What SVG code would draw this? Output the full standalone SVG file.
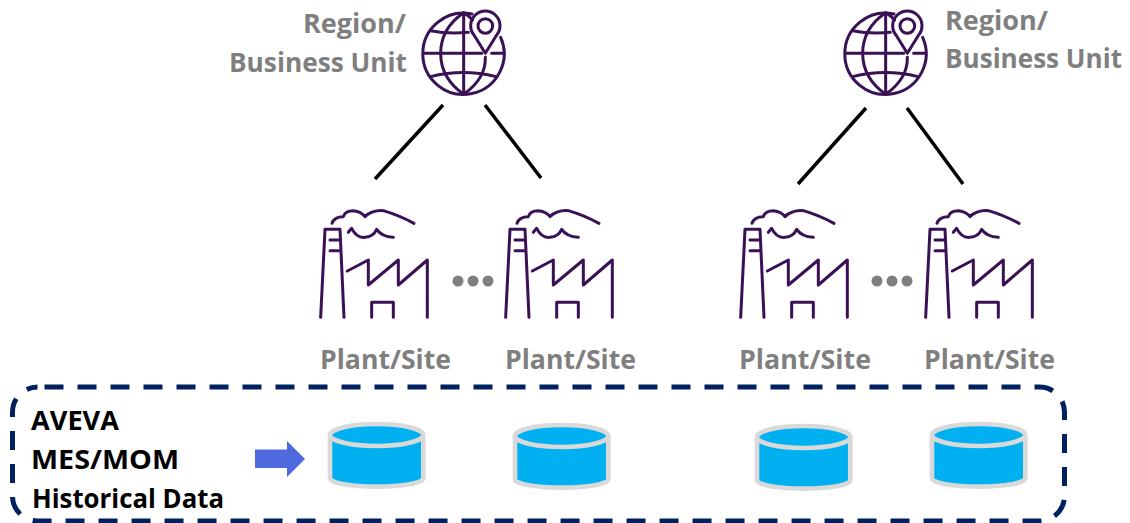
<svg xmlns="http://www.w3.org/2000/svg" width="1130" height="523" viewBox="0 0 1130 523">
<style>
.ico{fill:none;stroke:#3b1155;stroke-width:9;stroke-linecap:round;stroke-linejoin:round}
.conn{stroke:#000;stroke-width:3.500;fill:none}
.lbl{font-family:"Open Sans","Liberation Sans",sans-serif;font-weight:700;font-size:26px;fill:#7f7f7f}
.dark{font-family:"Open Sans","Liberation Sans",sans-serif;font-weight:700;font-size:27px;fill:#000}
.dot{fill:#7f7f7f}
.cyl{fill:#00b0f0;stroke:#d9d9d9;stroke-width:14;stroke-linejoin:round}
</style>
<defs>
<g id="globe" class="ico">
<path d="M186 42A122 122 0 1 0 272 112"/>
<path d="M161 38V283M161 38Q92 85 92 160Q92 235 161 283M161 283Q228 235 226 172M161 38Q178 48 188 60"/>
<path d="M40 160H215M245 160H278M62 92Q110 102 175 97M62 230Q160 205 258 230"/>
<path d="M226 160L192 105A44 44 0 1 1 260 105Z"/>
<circle cx="226" cy="78" r="22"/>
</g>
<g id="factory" class="ico">
<path d="M32 352L45 88H90L102 352M60 120H90M60 152H92"/>
<path d="M112 213L175 180V255L265 180V255L352 180V352M185 352V307H250V352"/>
<path d="M66 70Q72 50 100 50Q105 32 130 32Q155 35 165 50Q185 30 220 32Q265 45 312 70"/>
<path d="M115 97L125 85Q140 115 165 112Q190 110 200 88Q215 110 250 112"/>
</g>
<g id="cylinder" class="cyl">
<path d="M270 75V205A140 25 0 0 0 550 205V75"/>
<ellipse cx="410" cy="75" rx="140" ry="33"/>
</g>
</defs>
<g id="connectors" class="conn">
<path d="M443 105L375 179"/>
<path d="M485 105L541 178"/>
<path d="M866 108L798 184"/>
<path d="M907 108L963 184"/>
</g>
<g id="region-1">
<use href="#globe" transform="translate(410 0) scale(.3333)"/>
<text class="lbl" x="303" y="33" textLength="103" lengthAdjust="spacingAndGlyphs">Region/</text>
<text class="lbl" x="229" y="72" textLength="178" lengthAdjust="spacingAndGlyphs">Business Unit</text>
</g>
<g id="region-2">
<use href="#globe" transform="translate(832 0) scale(.3333)"/>
<text class="lbl" x="945" y="30" textLength="103" lengthAdjust="spacingAndGlyphs">Region/</text>
<text class="lbl" x="945" y="68" textLength="177" lengthAdjust="spacingAndGlyphs">Business Unit</text>
</g>
<g id="plant-1">
<use href="#factory" transform="translate(310 200) scale(.3333)"/>
<text class="lbl" x="320" y="369" textLength="131" lengthAdjust="spacingAndGlyphs">Plant/Site</text>
</g>
<g id="plant-2">
<use href="#factory" transform="translate(495 200) scale(.3333)"/>
<text class="lbl" x="505" y="369" textLength="131" lengthAdjust="spacingAndGlyphs">Plant/Site</text>
</g>
<g id="plant-3">
<use href="#factory" transform="translate(730 200) scale(.3333)"/>
<text class="lbl" x="739" y="369" textLength="132" lengthAdjust="spacingAndGlyphs">Plant/Site</text>
</g>
<g id="plant-4">
<use href="#factory" transform="translate(915 200) scale(.3333)"/>
<text class="lbl" x="924" y="369" textLength="131" lengthAdjust="spacingAndGlyphs">Plant/Site</text>
</g>
<g id="dots-1"><circle class="dot" cx="458" cy="281" r="5.500"/><circle class="dot" cx="473" cy="281" r="5.500"/><circle class="dot" cx="488" cy="281" r="5.500"/></g>
<g id="dots-2"><circle class="dot" cx="877" cy="281" r="5.500"/><circle class="dot" cx="892" cy="281" r="5.500"/><circle class="dot" cx="907" cy="281" r="5.500"/></g>
<g id="historical-data">
<rect x="12.500" y="387" width="1052" height="134" rx="25" fill="none" stroke="#002060" stroke-width="5" stroke-dasharray="19 14" stroke-dashoffset="-7"/>
<text class="dark" x="31" y="430" textLength="88" lengthAdjust="spacingAndGlyphs">AVEVA</text>
<text class="dark" x="31" y="469" textLength="148" lengthAdjust="spacingAndGlyphs">MES/MOM</text>
<text class="dark" x="32" y="508" textLength="192" lengthAdjust="spacingAndGlyphs">Historical Data</text>
<polygon points="255,449.500 287,449.500 287,441 305,459 287,477 287,468 255,468" fill="#4f69de"/>
</g>
<g id="db-1"><use href="#cylinder" transform="translate(240 410) scale(.3333)"/></g>
<g id="db-2"><use href="#cylinder" transform="translate(425 411) scale(.3333)"/></g>
<g id="db-3"><use href="#cylinder" transform="translate(667 412) scale(.3333)"/></g>
<g id="db-4"><use href="#cylinder" transform="translate(842 410) scale(.3333)"/></g>
</svg>
